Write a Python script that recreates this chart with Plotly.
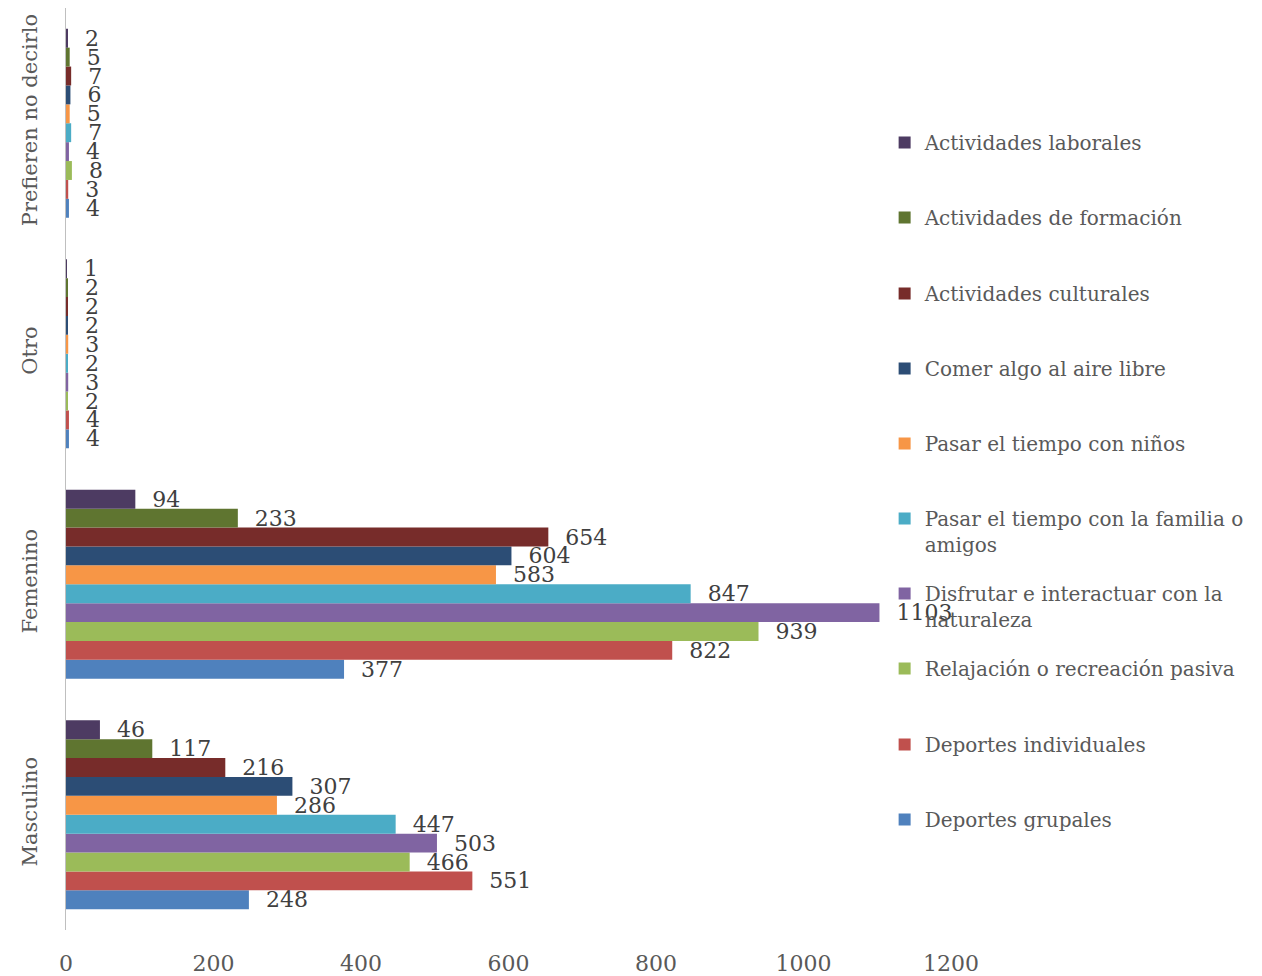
import plotly.graph_objects as go

# categories (bottom to top)
genero = ["Masculino", "Femenino", "Otro", "Prefieren no decirlo"]

deportes_grupales = [248, 377, 4, 4]
deportes_individuales = [551, 822, 4, 3]
relajacion = [466, 939, 2, 8]
naturaleza = [503, 1103, 3, 4]
familia = [447, 847, 2, 7]
ninos = [286, 583, 3, 5]
comer = [307, 604, 2, 6]
culturales = [216, 654, 2, 7]
formacion = [117, 233, 2, 5]
laborales = [46, 94, 1, 2]

x_ticks = [0, 200, 400, 600, 800, 1000, 1200]

series = [
    ("Deportes grupales", deportes_grupales, "#4F81BD"),
    ("Deportes individuales", deportes_individuales, "#C0504D"),
    ("Relajación o recreación pasiva", relajacion, "#9BBB59"),
    ("Disfrutar e interactuar con la<br>naturaleza", naturaleza, "#8064A2"),
    ("Pasar el tiempo con la familia o<br>amigos", familia, "#4BACC6"),
    ("Pasar el tiempo con niños", ninos, "#F79646"),
    ("Comer algo al aire libre", comer, "#2C4D75"),
    ("Actividades culturales", culturales, "#772C2A"),
    ("Actividades de formación", formacion, "#5F7530"),
    ("Actividades laborales", laborales, "#4D3B62"),
]

FONT = "DejaVu Serif"
PAGE_OFF = 8          # default body margin of the html page
PLOT_TOP, PLOT_H = 0, 922

# legend item rows (pixel y of first text line on the page), top to bottom
legend_rows = [143, 218, 294, 369, 444, 519, 594, 669, 745, 820]

fig = go.Figure()
layout_legends = {}
for i, (name, vals, col) in enumerate(series):
    lg = "legend" if i == 0 else f"legend{i+1}"
    fig.add_trace(go.Bar(
        y=genero, x=vals, name=name, orientation="h",
        marker=dict(color=col, line=dict(width=0)),
        text=vals, texttemplate="  %{x}", textposition="outside",
        textfont=dict(family=FONT, size=22, color="#404040"),
        constraintext="none", cliponaxis=False,
        legend=lg,
    ))
    row = legend_rows[len(series) - 1 - i]
    layout_legends[lg] = dict(
        x=0.925, xanchor="left",
        y=1 - (row - 20 - PAGE_OFF - PLOT_TOP) / PLOT_H, yanchor="top",
        valign="top",
        bgcolor="rgba(0,0,0,0)", borderwidth=0,
        font=dict(family=FONT, size=20, color="#595959"),
        itemclick=False,
    )

fig.update_layout(
    width=1262, height=976,
    margin=dict(l=58, r=311 + PAGE_OFF, t=PLOT_TOP, b=976 - PLOT_TOP - PLOT_H),
    paper_bgcolor="white", plot_bgcolor="white",
    barmode="group", bargap=0.18, bargroupgap=0,
    showlegend=True,
    xaxis=dict(range=[0, 1200], tickvals=x_ticks, showgrid=False, zeroline=False,
               showline=False, ticks="", ticklabelstandoff=18, automargin=False,
               tickfont=dict(family=FONT, size=22, color="#595959")),
    yaxis=dict(showgrid=False, zeroline=False, showline=True, linecolor="#BFBFBF",
               linewidth=1, ticks="", tickangle=-90, ticklabelstandoff=20,
               automargin=False,
               tickfont=dict(family=FONT, size=21, color="#595959")),
    **layout_legends,
)

fig.write_html("out.html")
